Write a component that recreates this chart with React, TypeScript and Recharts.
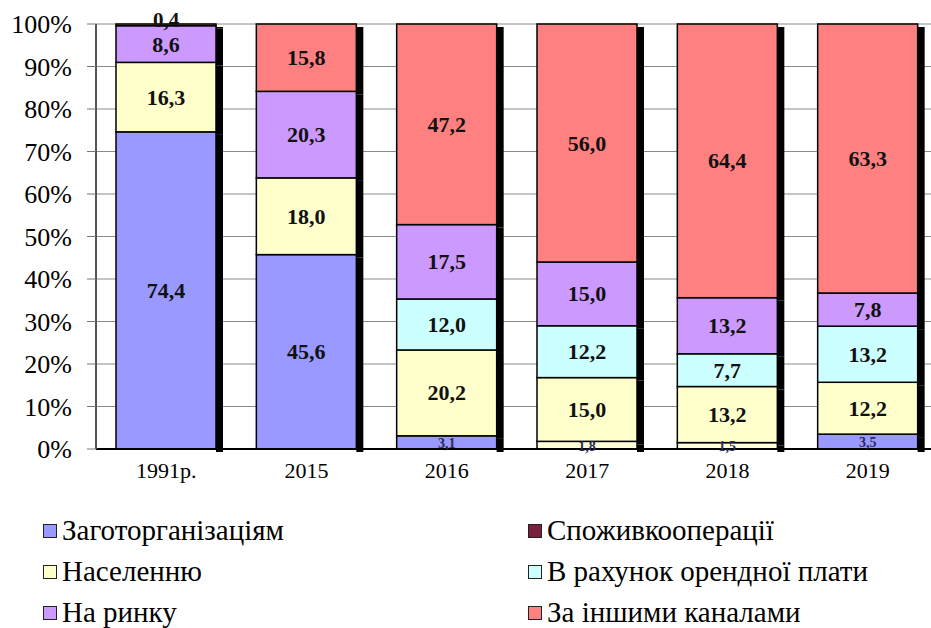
import { BarChart, Bar, XAxis, YAxis, CartesianGrid, LabelList, Cell } from 'recharts';

const years = ['1991р.', '2015', '2016', '2017', '2018', '2019'];

const zagotorg = [74.4, 45.6, 3.1, 0, 0, 3.5];
const spozhyv = [0, 0, 0, 1.8, 1.5, 0];
const naselennyu = [16.3, 18.0, 20.2, 15.0, 13.2, 12.2];
const orenda = [0, 0, 12.0, 12.2, 7.7, 13.2];
const rynok = [8.6, 20.3, 17.5, 15.0, 13.2, 7.8];
const inshi = [0.4, 15.8, 47.2, 56.0, 64.4, 63.3];

const yTicks = [0, 0.1, 0.2, 0.3, 0.4, 0.5, 0.6, 0.7, 0.8, 0.9, 1];

const series = [
  { key: 'zagotorg', name: 'Заготорганізаціям', color: '#9999ff' },
  { key: 'spozhyv', name: 'Споживкооперації', color: '#7a1f3d' },
  { key: 'naselennyu', name: 'Населенню', color: '#ffffcc' },
  { key: 'orenda', name: 'В рахунок орендної плати', color: '#ccffff' },
  { key: 'rynok', name: 'На ринку', color: '#cc99ff' },
  { key: 'inshi', name: 'За іншими каналами', color: '#ff8080' },
];

// the small bottom slices in 2017/2018 are drawn pale in the source
const spozhyvFill = '#ffffdc';

const data = years.map((year, i) => ({
  year,
  zagotorg: zagotorg[i],
  spozhyv: spozhyv[i],
  naselennyu: naselennyu[i],
  orenda: orenda[i],
  rynok: rynok[i],
  inshi: inshi[i],
}));

const FONT = '"Liberation Serif", "Times New Roman", serif';

function SegmentShape(props: any) {
  const { x, y, width, height, fill } = props;
  if (!height || height <= 0) return <g />;
  return (
    <g>
      <rect x={x + width} y={y + 3} width={7} height={height} fill="#000" />
      <rect x={x} y={y} width={width} height={height} fill={fill} stroke="#000" strokeWidth={1.5} />
    </g>
  );
}

function renderLabel(props: any) {
  const vb = props.viewBox || {};
  const x = props.x ?? vb.x;
  const y = props.y ?? vb.y;
  const width = props.width ?? vb.width;
  const height = props.height ?? vb.height;
  const value = Number(props.value);
  if (!value) return null;
  const text = value.toFixed(1).replace('.', ',');
  const cx = x + width / 2;
  if (value < 1) {
    // tiny slice at the top: label sits on the 100% line
    return (
      <text x={cx} y={y + height / 2 - 5} textAnchor="middle" dominantBaseline="central"
        fontFamily={FONT} fontSize={21} fontWeight="bold" fill="#111">{text}</text>
    );
  }
  if (value < 5) {
    return (
      <text x={cx} y={y + height / 2 + 1} textAnchor="middle" dominantBaseline="central"
        fontFamily={FONT} fontSize={14} fontWeight="bold" fill="#2a2a55">{text}</text>
    );
  }
  return (
    <text x={cx} y={y + height / 2} textAnchor="middle" dominantBaseline="central"
      fontFamily={FONT} fontSize={22} fontWeight="bold" fill="#111">{text}</text>
  );
}

function LegendBlock() {
  return (
    <div style={{
      position: 'absolute', top: 514, left: 43, width: 880,
      display: 'grid', gridTemplateColumns: '485px 395px', rowGap: 8,
      fontFamily: FONT, fontSize: 29, color: '#000',
    }}>
      {series.map((s) => (
        <div key={s.key} style={{ display: 'flex', alignItems: 'center', height: 33 }}>
          <span style={{
            display: 'inline-block', width: 12, height: 12, background: s.color,
            border: '1.5px solid #222', marginRight: 5,
          }} />
          <span>{s.name}</span>
        </div>
      ))}
    </div>
  );
}

export default function App() {
  return (
    <div style={{ position: 'absolute', top: 0, left: 0, width: 931, height: 628, overflow: 'hidden', background: '#fff' }}>
      <BarChart
        width={940}
        height={628}
        data={data}
        stackOffset="expand"
        barSize={100}
        margin={{ top: 24, right: 2, bottom: 149, left: 0 }}
      >
        <CartesianGrid vertical={false} stroke="#8a8a8a" strokeWidth={1} />
        <XAxis
          dataKey="year"
          height={30}
          tickLine={false}
          tickSize={0}
          tickMargin={13}
          axisLine={{ stroke: '#000', strokeWidth: 2 }}
          tick={{ fontFamily: FONT, fontSize: 22, fill: '#000' }}
        />
        <YAxis
          domain={[0, 1]}
          ticks={yTicks}
          width={96}
          tickSize={9}
          tickMargin={15}
          tickLine={{ stroke: '#777' }}
          axisLine={{ stroke: '#555', strokeWidth: 2 }}
          tickFormatter={(v: number) => `${Math.round(v * 100)}%`}
          tick={{ fontFamily: FONT, fontSize: 26, fill: '#000' }}
        />
        {series.map((s) => (
          <Bar
            key={s.key}
            dataKey={s.key}
            name={s.name}
            stackId="a"
            fill={s.color}
            shape={SegmentShape}
            isAnimationActive={false}
          >
            {s.key === 'spozhyv' &&
              data.map((d, i) => <Cell key={i} fill={d.spozhyv > 0 ? spozhyvFill : s.color} />)}
            <LabelList dataKey={s.key} content={renderLabel} />
          </Bar>
        ))}
      </BarChart>
      <LegendBlock />
    </div>
  );
}
